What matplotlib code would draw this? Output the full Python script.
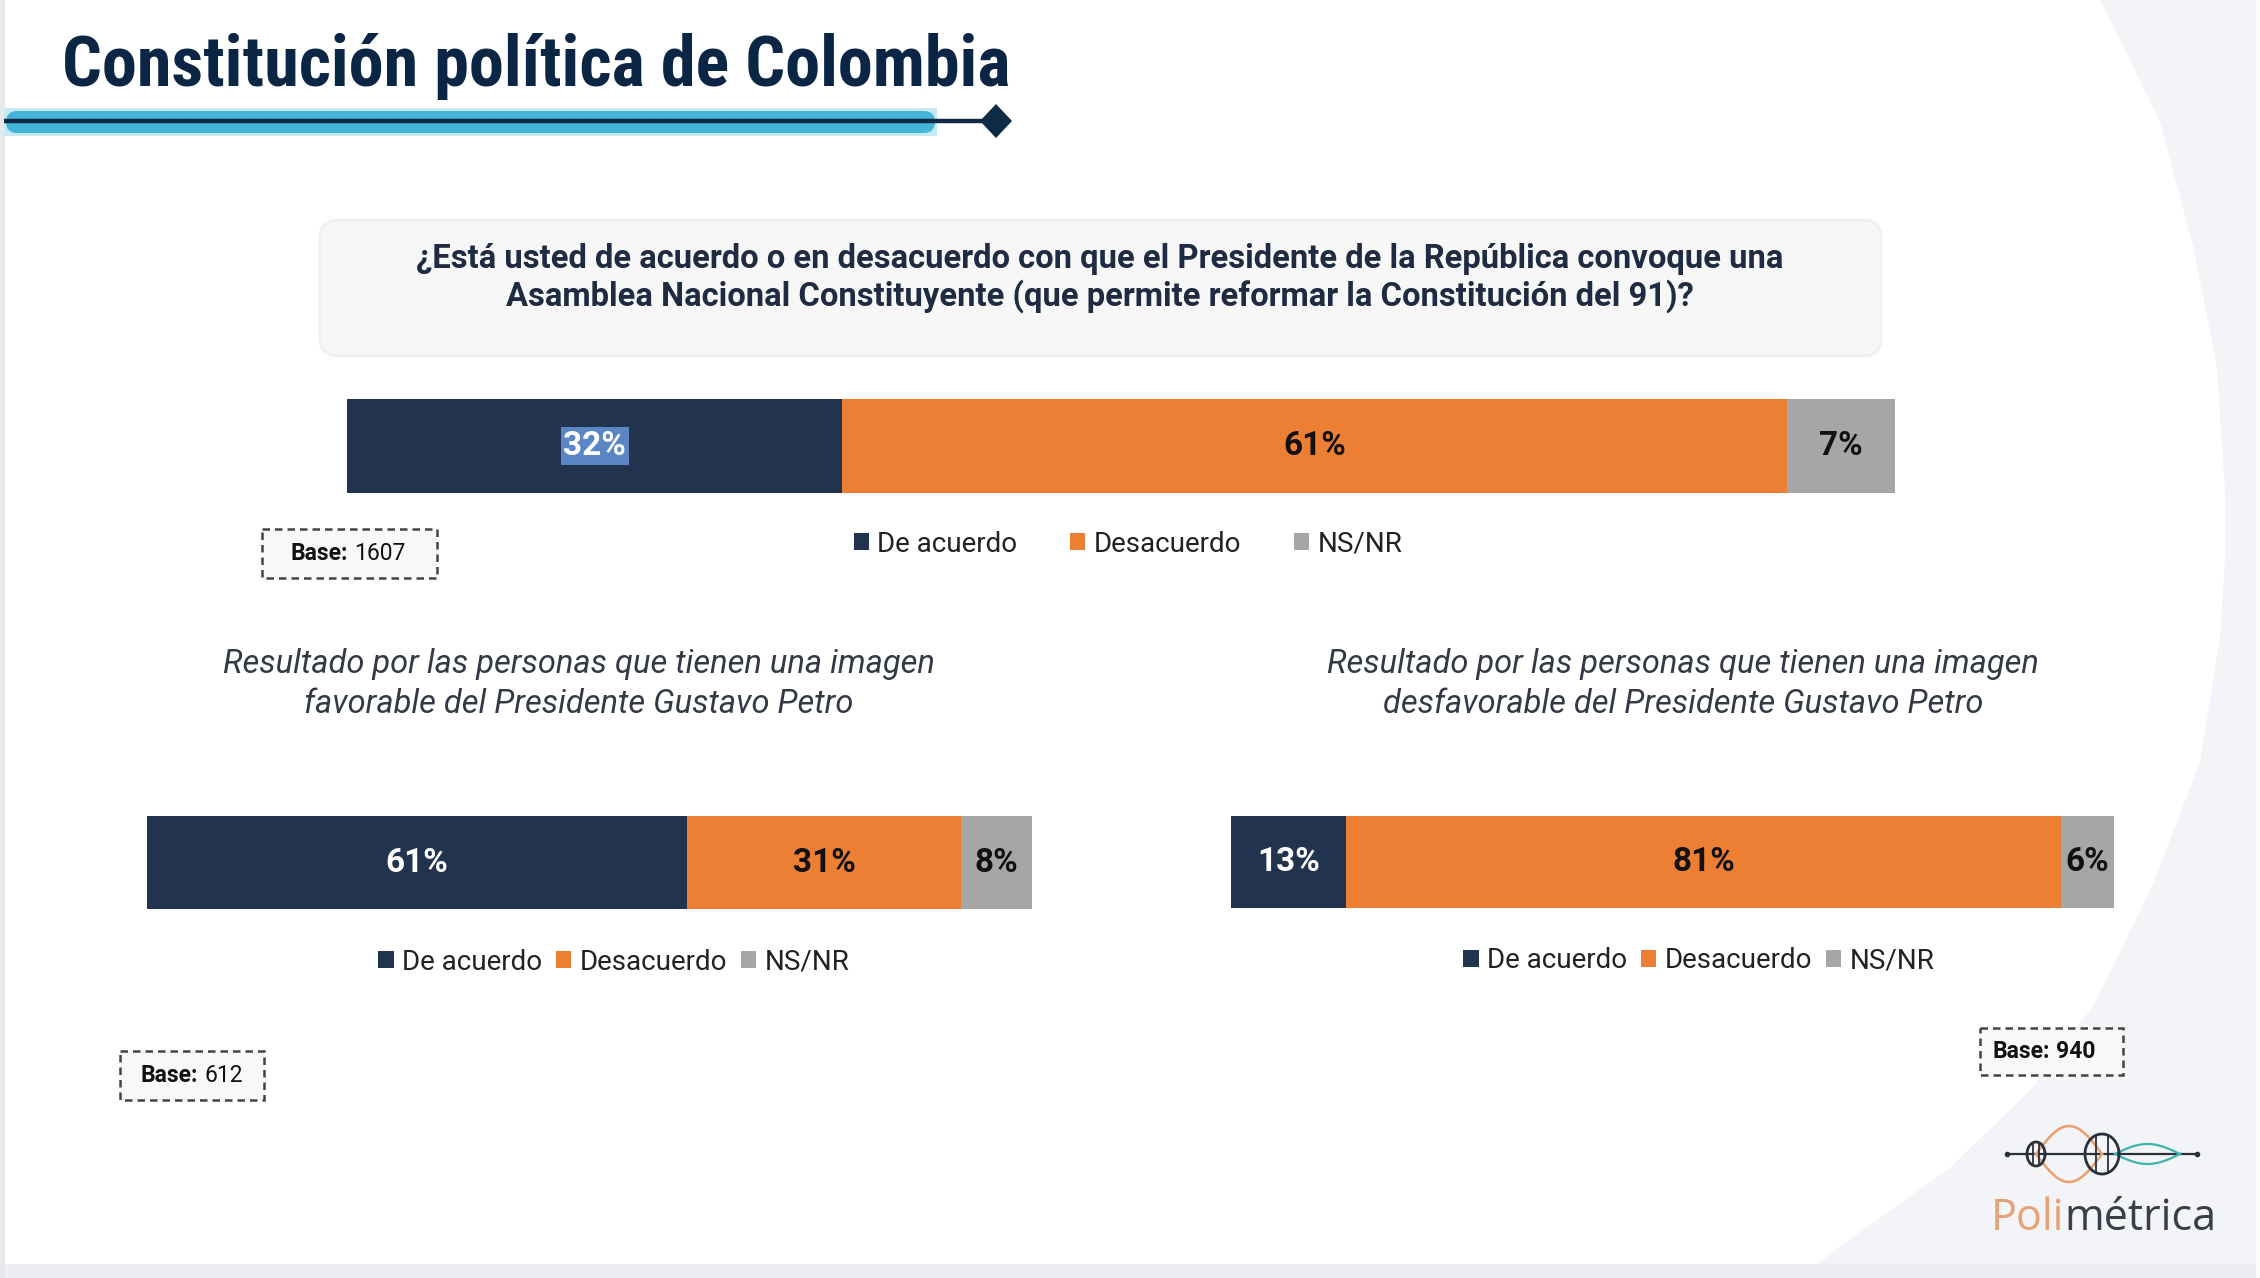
import numpy as np
import matplotlib
matplotlib.use("Agg")
import matplotlib.pyplot as plt
from matplotlib import font_manager as fm
from matplotlib.patches import Rectangle, Polygon, FancyBboxPatch

# ---------------- data ----------------
categories = ["De acuerdo", "Desacuerdo", "NS/NR"]
total_vals = [32, 61, 7]
favorable_vals = [61, 31, 8]
desfavorable_vals = [13, 81, 6]
bases = ["1607", "612", "940"]

title = "Constitución política de Colombia"
question = ("¿Está usted de acuerdo o en desacuerdo con que el Presidente de la República convoque una\n"
            "Asamblea Nacional Constituyente (que permite reformar la Constitución del 91)?")
sub_left = "Resultado por las personas que tienen una imagen\nfavorable del Presidente Gustavo Petro"
sub_right = "Resultado por las personas que tienen una imagen\ndesfavorable del Presidente Gustavo Petro"

colors = ["#22344d", "#ec7f33", "#a6a6a6"]
label_colors = ["white", "#111111", "#111111"]

# ---------------- fonts ----------------
names = {f.name for f in fm.fontManager.ttflist}
title_font = "Roboto"
for cand in ["Roboto Condensed", "Liberation Sans Narrow"]:
    if cand in names:
        title_font = cand
        break
F = "Roboto"

W, H = 2260, 1278
fig = plt.figure(figsize=(W / 100, H / 100), dpi=100)
fig.patch.set_facecolor("white")

bg = fig.add_axes([0, 0, 1, 1])
bg.set_xlim(0, W)
bg.set_ylim(H, 0)
bg.axis("off")
bg.set_zorder(0)

# background decoration
sw = [(2100, 0), (2160, 122), (2193, 245), (2217, 367), (2225, 490), (2225, 560), (2220, 637),
      (2200, 762), (2153, 884), (2093, 1006), (2033, 1087), (1950, 1168), (1835, 1250),
      (1800, 1278), (W, H), (W, 0)]
bg.add_patch(Polygon(sw, closed=True, facecolor="#f3f4f7", edgecolor="none"))
bg.add_patch(Rectangle((0, 1264), W, 14, facecolor="#eceef1", edgecolor="none"))
bg.add_patch(Rectangle((0, 0), 5, H, facecolor="#e6e8eb", edgecolor="none"))
bg.add_patch(Rectangle((W - 4, 0), 4, H, facecolor="#fafbfc", edgecolor="none"))

# title
bg.text(62, 86, title, fontsize=50.5 if title_font != "Roboto" else 42, fontweight="bold",
        family=[title_font, "DejaVu Sans"], color="#0b2545", ha="left", va="baseline")

# underline decoration
bg.add_patch(Rectangle((4, 108), 933, 28, facecolor="#c6e9f4", edgecolor="none"))
bg.add_patch(FancyBboxPatch((6, 111), 929, 22, boxstyle="round,pad=0,rounding_size=11",
                            facecolor="#44b4d8", edgecolor="none"))
bg.plot([4, 990], [121, 121], color="#0f2a44", lw=3.2, solid_capstyle="butt")
bg.add_patch(Polygon([(980, 121), (996, 104), (1012, 121), (996, 138)], closed=True,
                     facecolor="#0f2a44", edgecolor="none"))

# question box
bg.add_patch(FancyBboxPatch((324, 224), 1553, 128, boxstyle="round,pad=4,rounding_size=18",
                            facecolor="#f7f7f8", edgecolor="#f0f0f2", lw=2))
bg.text(1100, 278, question, fontsize=23.6, fontweight="bold", family=F, color="#1e2b40",
        ha="center", va="center", linespacing=1.18)

# subtitles
for x, s in [(579, sub_left), (1683, sub_right)]:
    bg.text(x, 684, s, fontsize=23.5, fontstyle="italic", fontweight="normal", family=F,
            color="#333a45", ha="center", va="center", linespacing=1.35)


def px_rect(x0, y0, x1, y1):
    return [x0 / W, 1 - y1 / H, (x1 - x0) / W, (y1 - y0) / H]


def stacked(rect, vals, legend_center, colspacing, highlight_first=False):
    ax = fig.add_axes(px_rect(*rect))
    ax.set_zorder(2)
    left = 0
    handles = []
    for i, (c, v) in enumerate(zip(categories, vals)):
        b = ax.barh([0], [v], left=left, height=1.0, color=colors[i], edgecolor="none", label=c)
        handles.append(b)
        kw = {}
        if highlight_first and i == 0:
            kw["bbox"] = dict(boxstyle="square,pad=0.08", facecolor="#5b86c6", edgecolor="none")
        ax.text(left + v / 2, 0, f"{v}%", ha="center", va="center", fontsize=24,
                fontweight="bold", family=F, color=label_colors[i], **kw)
        left += v
    ax.set_xlim(0, sum(vals))
    ax.set_ylim(-0.5, 0.5)
    ax.axis("off")
    leg = ax.legend(handles=handles, loc="center", bbox_to_anchor=legend_center,
                    bbox_transform=bg.transData, ncol=3, frameon=False,
                    handlelength=0.55, handleheight=0.55, handletextpad=0.3,
                    columnspacing=colspacing, prop=fm.FontProperties(family=F, size=20),
                    borderaxespad=0, borderpad=0)
    for t in leg.get_texts():
        t.set_color("#222222")
    return ax


stacked((347, 399, 1895, 493), total_vals, (1128, 544), 1.9, highlight_first=True)
stacked((147, 816, 1032, 909), favorable_vals, (614, 962), 0.5)
stacked((1231, 816, 2114, 908), desfavorable_vals, (1699, 961), 0.5)


# base boxes
def base_box(x0, y0, x1, y1, split, num, all_bold=False):
    bg.add_patch(Rectangle((x0, y0), x1 - x0, y1 - y0, facecolor="#f7f8fa", edgecolor="#444444",
                           lw=1.8, linestyle=(0, (3, 2)), zorder=3))
    yc = (y0 + y1) / 2
    bg.text(split, yc, "Base:", fontsize=16.5, fontweight="bold", family=F, color="#111111",
            ha="right", va="center", zorder=4)
    bg.text(split + 6, yc, num, fontsize=16.5, fontweight="bold" if all_bold else "normal",
            family=F, color="#111111", ha="left", va="center", zorder=4)


base_box(262, 529, 437, 578, 348, bases[0])
base_box(120, 1051, 264, 1100, 198, bases[1])
base_box(1980, 1028, 2123, 1075, 2050, bases[2], all_bold=True)

# logo
yl = 1154
dark = "#2a2f3a"
bg.plot([2007, 2197], [yl, yl], color=dark, lw=1.6)
bg.plot([2007, 2197], [yl, yl], "o", color=dark, ms=3)
xo = np.linspace(2036, 2102, 60)
amp = 28 * np.sin(np.pi * (xo - 2036) / 66)
bg.plot(xo, yl - amp, color="#e9a06c", lw=1.8)
bg.plot(xo, yl + amp, color="#e9a06c", lw=1.8)
xt = np.linspace(2115, 2180, 60)
ampt = 10 * np.sin(np.pi * (xt - 2115) / 65)
bg.plot(xt, yl - ampt, color="#3fb3ad", lw=1.6)
bg.plot(xt, yl + ampt, color="#3fb3ad", lw=1.6)
for cx, rw, rh in [(2036, 9, 12), (2102, 17, 20)]:
    th = np.linspace(0, 2 * np.pi, 80)
    bg.plot(cx + rw * np.cos(th), yl + rh * np.sin(th), color=dark, lw=2.0)
    for dx in (-rw * 0.35, rw * 0.35):
        bg.plot([cx + dx, cx + dx], [yl - rh * 0.9, yl + rh * 0.9], color=dark, lw=1.3)
bg.text(2064, 1219, "Poli", fontsize=31, family="Open Sans", color="#e6a277", ha="right", va="center")
bg.text(2064, 1219, "métrica", fontsize=31, family="Open Sans", color="#3a3e48", ha="left", va="center")

fig.savefig("out.png", dpi=100, facecolor="white")
